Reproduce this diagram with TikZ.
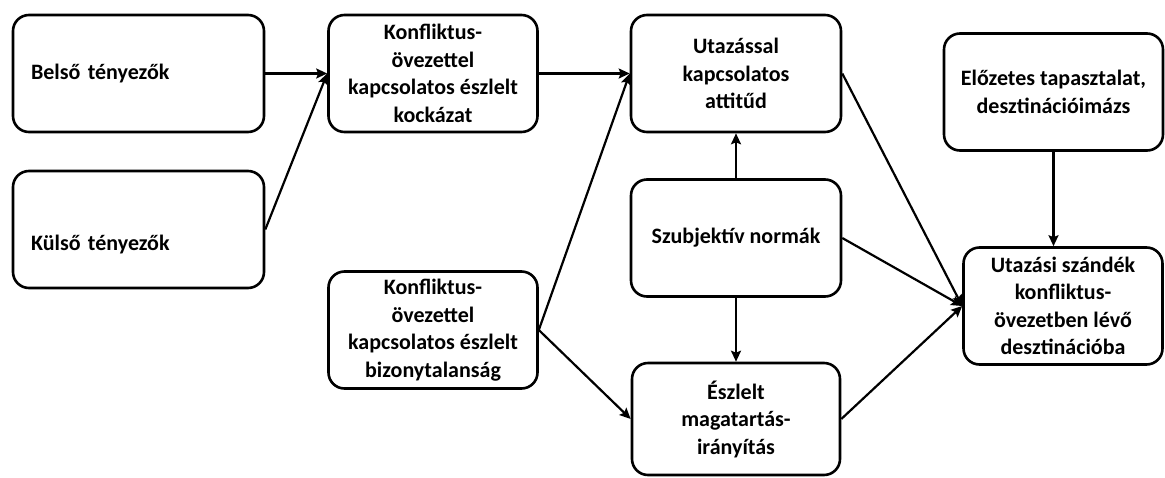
\documentclass[tikz,border=0pt]{standalone}
\usepackage{fontspec}
\setmainfont{Carlito}
\usepackage{tikz}
\usetikzlibrary{arrows.meta,positioning}

\tikzset{
  box/.style={draw, line width=2.6pt, rounded corners=16pt, align=center,
    font=\fontsize{22}{27.5}\selectfont\bfseries, inner sep=2pt,
    minimum width=209pt, minimum height=117pt},
  sidebox/.style={box, align=left, text width=215pt, minimum width=251pt},
  link/.style={line width=2.2pt, -{Stealth[length=11pt,width=10pt,inset=2pt]}}
}

\begin{document}
\begin{tikzpicture}[x=1pt, y=-1pt]
          \useasboundingbox (0,0) rectangle (1165,477);
          \node[sidebox] (belso) at (138.5,73.5) {Belső tényezők};
          \node[sidebox, text height=46pt, text depth=5pt] (kulso) at (138.5,229.5) {Külső tényezők};
          \node[box] (kockazat) at (433,73.5) {Konfliktus-\\övezettel\\kapcsolatos észlelt\\kockázat};
          \node[box] (bizonytalan) at (433,330) {Konfliktus-\\övezettel\\kapcsolatos észlelt\\bizonytalanság};
          \node[box, minimum width=210pt] (attitud) at (736,73.5) {Utazással\\kapcsolatos\\attitűd};
          \node[box, minimum width=210pt] (normak) at (736,238) {Szubjektív normák};
          \node[box, minimum width=208pt, minimum height=112pt] (iranyitas) at (736,419) {Észlelt\\magatartás-\\irányítás};
          \node[box, minimum width=219pt] (elozetes) at (1053.5,92) {Előzetes tapasztalat,\\desztinációimázs};
          \node[box, minimum width=199pt] (szandek) at (1063,306) {Utazási szándék\\konfliktus-\\övezetben lévő\\desztinációba};
          \path[link] (belso) edge (kockazat)
                    (kulso.east) edge (kockazat.west)
                    (kockazat) edge (attitud)
                    (bizonytalan.east) edge (attitud.west)
                    (bizonytalan.east) edge (iranyitas.west)
                    (normak) edge (attitud)
                    (normak) edge (iranyitas)
                    (attitud.east) edge (szandek.west)
                    (normak.east) edge (szandek.west)
                    (iranyitas.east) edge (szandek.west)
                    (elozetes.south) edge (elozetes.south |- szandek.north);
        \end{tikzpicture}
\end{document}
